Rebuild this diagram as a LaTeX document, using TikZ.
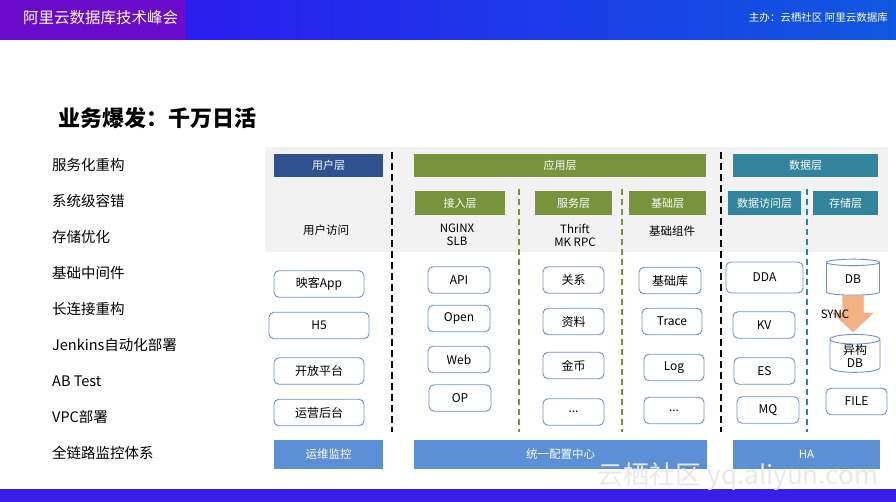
\documentclass[tikz,border=0pt]{standalone}
\usepackage{fontspec}
\setmainfont{Noto Sans CJK SC}
\usetikzlibrary{shapes.geometric, positioning, calc}
\definecolor{headpurple}{HTML}{6A0BCB}
\definecolor{headblue}{HTML}{2A1CF0}
\definecolor{headright}{HTML}{0F58E0}
\definecolor{footblue}{HTML}{3A1EE8}
\definecolor{userblue}{HTML}{2F528F}
\definecolor{appgreen}{HTML}{77933C}
\definecolor{datateal}{HTML}{31849B}
\definecolor{barblue}{HTML}{5B8FD6}
\definecolor{boxline}{HTML}{7090BE}
\definecolor{bggray}{HTML}{F2F2F2}
\definecolor{syncfill}{HTML}{F4B183}
\tikzset{
  every node/.style = {inner sep=0pt},
  sidetext/.style   = {anchor=west, font=\fontsize{14.5}{16}\selectfont},
  layerhead/.style  = {rectangle, text=white, minimum height=23pt,
                       font=\fontsize{11}{13}\selectfont},
  subhead/.style    = {rectangle, text=white, minimum height=24pt,
                       font=\fontsize{11}{13}\selectfont},
  tiertext/.style   = {align=center, font=\fontsize{11.5}{13}\selectfont},
  item/.style       = {rectangle, draw=boxline, line width=0.9pt, rounded corners=5pt,
                       minimum height=26.5pt, font=\fontsize{12}{13}\selectfont},
  store/.style      = {cylinder, shape border rotate=90, aspect=0.4, draw=boxline,
                       line width=0.9pt, align=center, font=\fontsize{12}{13}\selectfont},
  basebar/.style    = {rectangle, fill=barblue, text=white, minimum height=29pt,
                       font=\fontsize{11.5}{13}\selectfont},
  layersep/.style   = {line width=2pt, dash pattern=on 7pt off 4pt},
  subsep/.style     = {line width=1.5pt, dash pattern=on 6pt off 4pt}
}
\begin{document}
\begin{tikzpicture}[x=1pt, y=-1pt]
  \useasboundingbox (0,0) rectangle (896,502);
  % header and footer bands
  \fill[headpurple] (0,0) rectangle (186,40);
  \shade[left color=headblue, right color=headright] (186,0) rectangle (896,40);
  \fill[footblue] (0,489) rectangle (896,502);
  \node[anchor=west, text=white, font=\fontsize{15.5}{17}\selectfont] (conf) at (23,18) {阿里云数据库技术峰会};
  \node[anchor=east, text=white, font=\fontsize{10.5}{12}\selectfont] (host) at (888,18) {主办：云栖社区 阿里云数据库};
  \node[anchor=west, font=\bfseries\fontsize{22}{24}\selectfont] (title) at (58,118) {业务爆发：千万日活};

  % left column
  \node[sidetext] (svc)   at (52,165) {服务化重构};
  \node[sidetext] (fault) at (52,201) {系统级容错};
  \node[sidetext] (stor)  at (52,237) {存储优化};
  \node[sidetext] (mid)   at (52,273) {基础中间件};
  \node[sidetext] (conn)  at (52,309) {长连接重构};
  \node[sidetext] (jenk)  at (52,345) {Jenkins自动化部署};
  \node[sidetext] (abt)   at (52,381) {AB Test};
  \node[sidetext] (vpc)   at (52,417) {VPC部署};
  \node[sidetext] (mon)   at (52,453) {全链路监控体系};

  % tier headers
  \fill[bggray] (265,147) rectangle (888,252);
  \node[layerhead, fill=userblue, minimum width=109pt] (user) at (328.5,165.5) {用户层};
  \node[layerhead, fill=appgreen, minimum width=292pt] (app)  at (560,165.5)   {应用层};
  \node[layerhead, fill=datateal, minimum width=145pt] (data) at (805.5,165.5) {数据层};
  \node[subhead, fill=appgreen, minimum width=90pt] (acc)  at (460,203)   {接入层};
  \node[subhead, fill=appgreen, minimum width=77pt] (serv) at (573.5,203) {服务层};
  \node[subhead, fill=appgreen, minimum width=77pt] (base) at (667.5,203) {基础层};
  \node[subhead, fill=datateal, minimum width=73pt] (dacc) at (764.5,203) {数据访问层};
  \node[subhead, fill=datateal, minimum width=65pt] (keep) at (845.5,203) {存储层};
  \node[tiertext] (usertxt) at (326,230) {用户访问};
  \node[tiertext] (acctxt)  at (457,235) {NGINX\\SLB};
  \node[tiertext] (servtxt) at (575,235) {Thrift\\MK RPC};
  \node[tiertext] (basetxt) at (672,231) {基础组件};

  % separators
  \draw[layersep] (392,152) -- (392,432);
  \draw[layersep] (721,152) -- (721,432);
  \draw[subsep, appgreen] (519,189) -- (519,432);
  \draw[subsep, appgreen] (622,189) -- (622,432);
  \draw[subsep, datateal] (807,189) -- (807,432);

  % user tier
  \node[item, minimum width=90pt]  (app1) at (319,284)   {映客App};
  \node[item, minimum width=100pt] (h5)   at (319,325.5) {H5};
  \node[item, minimum width=90pt]  (open) at (319,371)   {开放平台};
  \node[item, minimum width=90pt]  (ops)  at (319,412.5) {运营后台};
  % access tier
  \node[item, minimum width=62pt] (api)  at (459,280)   {API};
  \node[item, minimum width=62pt] (opn)  at (459,318.5) {Open};
  \node[item, minimum width=62pt] (web)  at (459,359.5) {Web};
  \node[item, minimum width=62pt] (op)   at (460,398)   {OP};
  % service tier
  \node[item, minimum width=61pt] (rel)  at (573.5,280)   {关系};
  \node[item, minimum width=61pt] (prof) at (573.5,321.5) {资料};
  \node[item, minimum width=61pt] (coin) at (573.5,365.5) {金币};
  \node[item, minimum width=61pt] (more) at (573.5,412)   {...};
  % base tier
  \node[item, minimum width=62pt] (lib)   at (670,280.5) {基础库};
  \node[item, minimum width=60pt] (trace) at (672,321.5) {Trace};
  \node[item, minimum width=60pt] (log)   at (674,367.5) {Log};
  \node[item, minimum width=60pt] (etc)   at (674,410.5) {...};
  % data access tier
  \node[item, minimum width=77pt, minimum height=31pt] (dda) at (764.5,277.5) {DDA};
  \node[item, minimum width=62pt] (kv) at (764,325)   {KV};
  \node[item, minimum width=61pt] (es) at (764.5,371) {ES};
  \node[item, minimum width=62pt] (mq) at (768,410)   {MQ};
  % storage tier
  \node[store, minimum width=53pt, minimum height=36pt] (db)  at (853,279) {DB};
  \node[store, minimum width=50pt, minimum height=36pt] (hdb) at (855,356) {异构\\DB};
  \node[item, minimum width=61pt] (file) at (856.5,401.5) {FILE};
  \fill[syncfill, draw=syncfill!80!black!70, line width=0.4pt]
    let \p1=(db.south), \p2=(hdb.north) in
    (\x1-10.5pt,\y1) -- (\x1+10.5pt,\y1) -- (\x1+10.5pt,\y2+21pt) -- (\x1+20pt,\y2+21pt)
    -- (\x1,\y2+2pt) -- (\x1-20pt,\y2+21pt) -- (\x1-10.5pt,\y2+21pt) -- cycle;
  \node[font=\fontsize{11.5}{13}\selectfont] (sync) at (835,314) {SYNC};

  % bottom bars
  \node[basebar, minimum width=109pt] (opsmon) at (328.5,454.5) {运维监控};
  \node[basebar, minimum width=293pt] (cfg)    at (560.5,454.5) {统一配置中心};
  \node[basebar, minimum width=147pt] (ha)     at (806.5,454.5) {HA};
  \node[text=black!9, font=\fontsize{26}{28}\selectfont] (mark) at (738,477) {云栖社区 yq.aliyun.com};
\end{tikzpicture}
\end{document}
